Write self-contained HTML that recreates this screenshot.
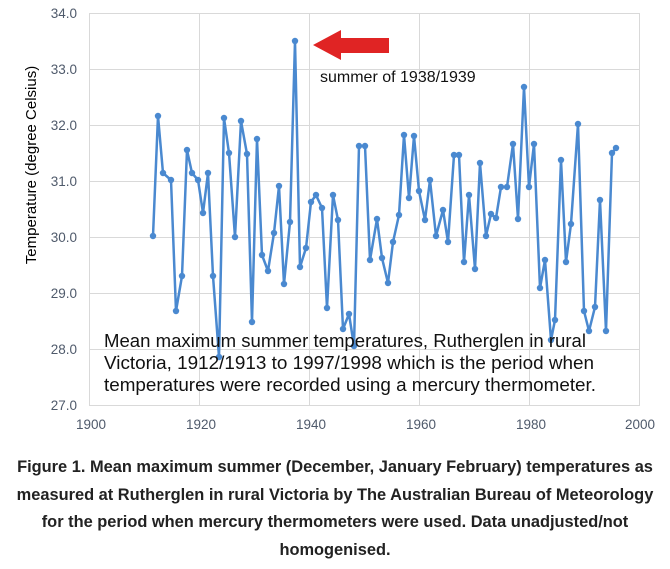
<!DOCTYPE html>
<html><head><style>
body{margin:0;background:#fff;width:670px;height:569px;overflow:hidden;font-family:"Liberation Sans",sans-serif}
.cap{position:absolute;left:0;top:454px;width:670px;text-align:center;font-weight:bold;font-size:16.4px;line-height:27.5px;color:#222;white-space:nowrap}
</style></head><body>
<svg width="670" height="450" style="position:absolute;left:0;top:0" font-family="Liberation Sans, sans-serif">
<g stroke="#d9d9d9" stroke-width="1">
<line x1="89" y1="13.5" x2="640" y2="13.5"/><line x1="89" y1="69.5" x2="640" y2="69.5"/><line x1="89" y1="125.5" x2="640" y2="125.5"/><line x1="89" y1="181.5" x2="640" y2="181.5"/><line x1="89" y1="237.5" x2="640" y2="237.5"/><line x1="89" y1="293.5" x2="640" y2="293.5"/><line x1="89" y1="349.5" x2="640" y2="349.5"/><line x1="89" y1="405.5" x2="640" y2="405.5"/>
<line x1="89.5" y1="13" x2="89.5" y2="406"/><line x1="199.5" y1="13" x2="199.5" y2="406"/><line x1="309.5" y1="13" x2="309.5" y2="406"/><line x1="419.5" y1="13" x2="419.5" y2="406"/><line x1="529.5" y1="13" x2="529.5" y2="406"/><line x1="639.5" y1="13" x2="639.5" y2="406"/>
</g>
<g fill="#4f5a6b" font-size="13.5" text-anchor="end">
<text x="77" y="18">34.0</text><text x="77" y="74">33.0</text><text x="77" y="130">32.0</text><text x="77" y="186">31.0</text><text x="77" y="242">30.0</text><text x="77" y="298">29.0</text><text x="77" y="354">28.0</text><text x="77" y="410">27.0</text>
</g>
<g fill="#4f5a6b" font-size="13.5" text-anchor="middle">
<text x="91" y="429">1900</text><text x="201" y="429">1920</text><text x="311" y="429">1940</text><text x="421" y="429">1960</text><text x="531" y="429">1980</text><text x="640" y="429">2000</text>
</g>
<text transform="translate(36,165) rotate(-90)" font-size="15" text-anchor="middle" fill="#000">Temperature (degree Celsius)</text>
<polyline id="p" fill="none" stroke="#4a89d0" stroke-width="2.5" stroke-linejoin="round" points="153,236 158,116 163,173 171,180 176,311 182,276 187,150 192,173 198,180 203,213 208,173 213,276 219,357 224,118 229,153 235,237 241,121 247,154 252,322 257,139 262,255 268,271 274,233 279,186 284,284 290,222 295,41 300,267 306,248 311,202 316,195 322,208 327,308 333,195 338,220 343,329 349,314 354,346 359,146 365,146 370,260 377,219 382,258 388,283 393,242 399,215 404,135 409,198 414,136 419,191 425,220 430,180 436,236 443,210 448,242 454,155 459,155 464,262 469,195 475,269 480,163 486,236 491,214 496,218 501,187 507,187 513,144 518,219 524,87 529,187 534,144 540,288 545,260 551,340 555,320 561,160 566,262 571,224 578,124 584,311 589,331 595,307 600,200 606,331 612,153 616,148"/>
<g fill="#4a89d0" id="d"></g>
<g font-size="18.2" fill="#111">
<text x="104" y="347" textLength="482" lengthAdjust="spacingAndGlyphs">Mean maximum summer temperatures, Rutherglen in rural</text>
<text x="104" y="369" textLength="490" lengthAdjust="spacingAndGlyphs">Victoria, 1912/1913 to 1997/1998 which is the period when</text>
<text x="104" y="391" textLength="492" lengthAdjust="spacingAndGlyphs">temperatures were recorded using a mercury thermometer.</text>
</g>
<polygon points="313,45 341,30 341,38 389,38 389,53 341,53 341,60" fill="#e02424"/>
<text x="320" y="82" font-size="16" fill="#111">summer of 1938/1939</text>
</svg>
<script>
var pts=document.getElementById('p').getAttribute('points').trim().split(/\s+/),g=document.getElementById('d'),s='';
pts.forEach(function(q){var a=q.split(',');s+='<circle cx="'+a[0]+'" cy="'+a[1]+'" r="3.2"/>';});
g.innerHTML=s;
</script>
<div class="cap">Figure 1. Mean maximum summer (December, January February) temperatures as<br>measured at Rutherglen in rural Victoria by The Australian Bureau of Meteorology<br>for the period when mercury thermometers were used. Data unadjusted/not<br>homogenised.</div>
</body></html>
